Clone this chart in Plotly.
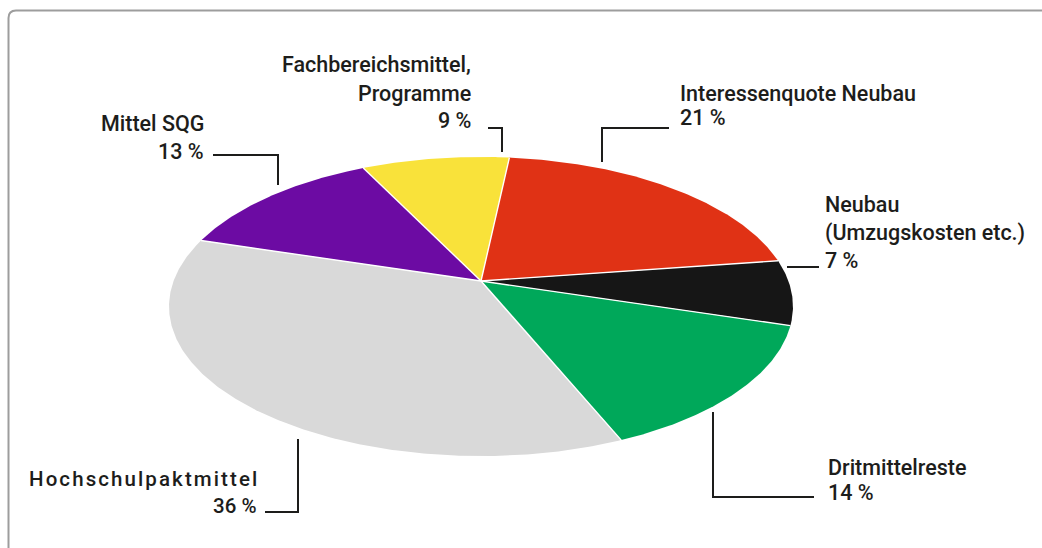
import math
import plotly.graph_objects as go

# Budget shares, listed clockwise starting at the upper-left slice
labels = ["Mittel SQG", "Fachbereichsmittel, Programme", "Interessenquote Neubau",
          "Neubau (Umzugskosten etc.)", "Dritmittelreste", "Hochschulpaktmittel"]
values = [13, 9, 21, 7, 14, 36]
colors = ["#6c0ba3", "#f9e23a", "#e03215", "#161616", "#00a85a", "#d9d9d9"]

HAIR = "\u200a"
# Label text lines per slice (the large-slice caption is letter-spaced)
label_lines = [
    ["Mittel SQG", "13 %"],
    ["Fachbereichsmittel,", "Programme", "9 %"],
    ["Interessenquote Neubau", "21 %"],
    ["Neubau", "(Umzugskosten etc.)", "7 %"],
    ["Dritmittelreste", "14 %"],
    [HAIR.join("Hochschulpaktmittel"), "36 %"],
]
label_sizes = [21.5, 21.5, 21.5, 21.5, 21.5, 20.5]

W, H = 1042, 548
INK = "#1d1d1b"

# Tilted-disc projection (pixel space on the axes)
CX, CY = 481.0, 281.0      # pie apex
A, B, E = 307.4, 145.2, 0.1706
START = 163.0              # angle of the first slice edge, degrees


def project(theta_deg):
    t = math.radians(theta_deg)
    u, v = math.cos(t), math.sin(t)
    d = 1.0 + E * v
    return CX + A * u / d, CY - B * v / d


fig = go.Figure()

total = float(sum(values))
edges = [START]
for val in values:
    edges.append(edges[-1] - 360.0 * val / total)

for i, (val, col) in enumerate(zip(values, colors)):
    a0, a1 = edges[i], edges[i + 1]
    n = max(8, int(abs(a0 - a1) * 2))
    xs, ys = [CX], [CY]
    for k in range(n + 1):
        x, y = project(a0 + (a1 - a0) * k / n)
        xs.append(x)
        ys.append(y)
    xs.append(CX)
    ys.append(CY)
    fig.add_trace(go.Scatter(x=xs, y=ys, mode="lines", fill="toself",
                             fillcolor=col, line=dict(width=0, color=col),
                             hoverinfo="text", text=f"{labels[i]}: {val} %",
                             showlegend=False))

# thin white separators between slices
for ang in edges[:-1]:
    x, y = project(ang)
    fig.add_trace(go.Scatter(x=[CX, x], y=[CY, y], mode="lines",
                             line=dict(color="white", width=1.4),
                             hoverinfo="skip", showlegend=False))

# Leader lines (pixel paths)
leaders = [
    "M 213,155 L 278,155 L 278,185",
    "M 488,128 L 502,128 L 502,152",
    "M 669,128 L 602,128 L 602,162",
    "M 787,267 L 819,267",
    "M 713,412 L 713,497 L 814,497",
    "M 298,439 L 298,512 L 265,512",
]
shapes = [dict(type="path", path=p, xref="x", yref="y",
               line=dict(color=INK, width=2)) for p in leaders]

# Outer frame with a rounded top-left corner
shapes.append(dict(type="path", xref="x", yref="y",
                   path="M 8.5,570 L 8.5,18 Q 8.5,10.5 16,10.5 L 1070,10.5",
                   line=dict(color="#9d9d9d", width=2)))

# Text placement: (anchor x, baseline of each line, horizontal alignment)
placements = [
    (206, [131, 159], "right"),
    (473, [72, 101, 128], "right"),
    (678, [101, 125], "left"),
    (823, [212, 241, 268], "left"),
    (826, [475, 500], "left"),
    (259, [486, 513], "right"),
]
annotations = []
for lines, fs, (ax, bases, align) in zip(label_lines, label_sizes, placements):
    for txt, base in zip(lines, bases):
        annotations.append(dict(
            x=ax, y=base - 0.36 * fs, xref="x", yref="y", text=txt,
            showarrow=False, xanchor=align, yanchor="middle",
            font=dict(family="Roboto", size=fs, color=INK, weight=500)))

fig.update_layout(
    width=W, height=H,
    margin=dict(l=0, r=0, t=0, b=0),
    paper_bgcolor="white", plot_bgcolor="white",
    xaxis=dict(range=[0, W], visible=False, fixedrange=True),
    yaxis=dict(range=[H, 0], visible=False, fixedrange=True),
    shapes=shapes, annotations=annotations, showlegend=False,
)

fig.write_html("out.html")
